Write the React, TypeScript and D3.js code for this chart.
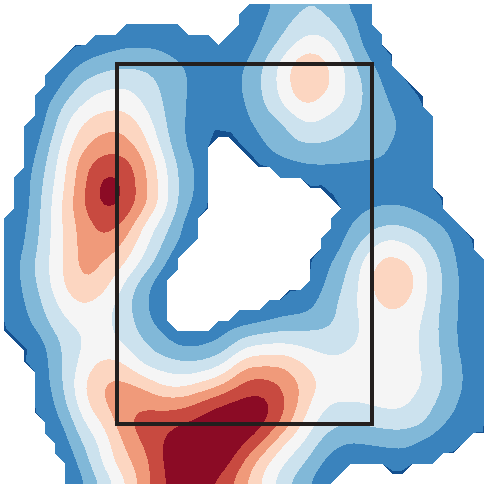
import React from "react";
import * as d3 from "d3";

// Density at 25 x 25 sample points (rows top to bottom, columns left to right).
const density: number[][] = [
  [-2,-2,-2,-2,-2,-1.5,-1,-1,-1,-1,-1,-.5,.2,.75,1.4,1.9,1.8,1.1,.5,0,-1,-1,-2,-2,-2],
  [-2,-2,-2,-2,-1,-.5,-.1,0,0,-.2,-.6,-.3,.3,1,1.75,2.5,2.4,1.55,.7,.05,-1,-1,-2,-2,-2],
  [-2,-2,-1,-.2,.25,.5,.8,.85,.7,.3,.1,.1,.45,1.37,2.4,3.4,3.4,2.25,.8,.2,-.5,-1,-2,-2,-2],
  [-2,-1,-.1,.45,1.05,1.55,1.75,1.7,1.45,.95,.65,.55,.9,2.05,3.4,4.7,4.2,2.95,1.4,.6,0,-1,-2,-2,-2],
  [-2,-1,0,1.05,2.2,2.7,2.85,2.5,1.75,1.05,.7,.6,1.05,2.2,3.5,4.95,4.35,3.1,1.9,.9,.2,-1,-2,-2,-2],
  [-2,-.5,.65,2,3.05,3.6,3.65,2.95,1.95,1,.7,.55,.9,2,3.1,4.05,3.6,2.95,1.85,1.2,.55,-.1,-1,-2,-2],
  [-1,0,.9,2.75,4.1,4.65,4.65,3.7,2.15,1,.5,.3,.7,1.4,1.95,2.95,2.75,2.2,1.75,1.3,.85,.1,-1,-2,-2],
  [-.5,.1,1.4,3.3,4.75,5.45,5.35,4.35,2.55,1,.5,.1,.3,.95,1.6,1.97,1.95,1.7,1.4,1.15,.7,.3,-.5,-2,-2],
  [-.3,.4,1.8,3.75,5.6,6.5,6.4,5.1,3.2,1.4,.6,0,.1,.35,.7,.95,1,.95,.9,.9,.55,.1,-.5,-2,-2],
  [-.3,.55,2.1,3.95,5.85,7.3,6.9,5.25,3.45,1.5,.6,-.5,-1,-1,-.5,.2,.3,.45,.55,.55,.45,.2,-.1,-1,-2],
  [-.3,.55,2.3,4.2,6,7.2,6.8,5.25,3.4,1.4,.3,-1,-1,-1,-1,-1,-.5,.4,.75,.95,.9,.55,0,-1,-2],
  [-.1,.8,2.35,4.15,5.55,6.35,5.85,4,2.5,.95,-.5,-1,-1,-1,-1,-1,-.3,.7,1.4,1.9,1.85,1.45,.9,.25,-.5],
  [.05,.95,2.5,4.1,5.4,5.75,4.85,3.35,1.85,.6,-1,-1,-1,-1,-1,-1,0,1.1,2.25,3.3,3.1,2.3,1.35,.55,.05],
  [.1,1.3,2.65,4.05,5.35,4.85,4.05,2.6,1.2,-.5,-1,-1,-1,-1,-1,-1,.75,1.6,3.26,4.35,4.2,3.1,1.75,.6,0],
  [.05,1.2,2.5,4.05,4.85,4.4,2.95,1.5,.2,-1,-1,-1,-1,-1,-1,.2,.95,2.05,3.4,4.7,4.75,3.2,1.9,.75,.05],
  [-.1,.95,2.1,3.4,4.05,3.45,2.45,1.2,.2,-1,-1,-1,-.5,0,.3,.55,1.35,2.35,3.35,4.1,4.05,3.1,1.75,.7,0],
  [-.5,.6,1.7,2.75,3.25,3.15,2.7,1.4,.65,.2,-.1,.55,.9,1.15,1.5,1.6,1.8,2.35,3.2,3.65,3.6,2.85,1.65,.7,0],
  [-1,-.3,.95,2.2,3.1,3.3,2.95,2.15,1.3,.75,.95,1.4,2.6,3,3.05,2.8,2.6,2.75,3.2,3.35,3.3,2.85,1.7,.7,0],
  [-2,-1,.7,2.15,3.4,4.3,4.05,2.85,2.5,2.2,2.3,3.05,4.6,4.8,4.8,4,3.3,3.25,3.5,3.5,3.4,2.95,1.85,.9,0],
  [-2,-2,.6,2.05,3.95,5,5.2,4.7,3.8,3.7,4.3,5,6.2,6.4,5.75,4.7,3.7,3.4,3.45,3.5,3.45,2.95,1.9,.95,.1],
  [-2,-2,.2,1.75,3.65,4.95,5.6,5.8,5.6,5.7,6.35,7,7.35,7.3,6.1,4.5,3.1,2.95,3,3.2,3.15,2.45,1.6,.7,.05],
  [-2,-2,0,1.05,2.9,4.1,5.65,6.4,6.65,7,7.55,7.9,7.95,7.05,5.6,3.75,2.55,2,2.1,2.3,2.35,2,1,.3,-1],
  [-2,-2,-1,.6,2.05,3.45,5.05,6.1,7.05,7.9,8.1,8,7,5.7,4,2.9,1.6,.95,.95,1.1,1.15,.7,.1,-1,-2],
  [-2,-2,-2,0,1.5,3.15,4.6,5.6,7.1,7.7,7.9,7.35,5.85,4.25,3,2,.85,.3,.3,.3,.45,.1,-1,-2,-2],
  [-2,-2,-2,-.5,1,2.3,3.8,5.55,6.9,7.7,7.3,6.5,5.2,3.75,2.35,1.25,.35,-.5,-1,-1,-1,-1,-2,-2,-2],
];

// Contour levels and their fills; the first fill is the band below level 1.
const levels = [1, 2, 3, 4, 5, 6, 7];
const bandColors = ["#81b8d8", "#cce2ee", "#f5f5f5", "#fcd6c1", "#f09a7a", "#c84a40", "#8b0b25"];
const baseColor = "#3a83bd";
const lowColor = "#14508f";
const frameColor = "#231f1e";

// Valid points of the 48 x 48 masked lattice: inclusive [from, to] runs per row.
const maskRuns: number[][][] = [
  [[24,36]],[[23,36]],[[12,17],[23,36]],[[9,20],[22,37]],[[7,37]],[[6,38]],[[5,38]],[[4,39]],
  [[4,40]],[[3,41]],[[3,41]],[[3,42]],[[2,42]],[[2,42]],[[2,20],[23,42]],[[2,20],[24,42]],
  [[2,20],[25,42]],[[1,20],[27,42]],[[1,20],[30,42]],[[1,20],[32,43]],[[1,20],[33,43]],[[0,19],[32,44]],[[0,19],[32,45]],[[0,19],[31,46]],
  [[0,18],[31,46]],[[0,17],[30,47]],[[0,17],[30,47]],[[0,16],[30,47]],[[0,16],[28,47]],[[0,16],[26,47]],[[0,16],[23,47]],[[0,16],[21,47]],
  [[0,47]],[[1,47]],[[2,47]],[[2,47]],[[3,47]],[[3,47]],[[3,47]],[[3,47]],
  [[3,47]],[[4,47]],[[4,47]],[[5,45]],[[5,44]],[[6,42]],[[6,33],[38,39]],[[6,32]],
];

// Lattice points where the field drops below the lowest level: [column, row, depth].
const lowPoints: number[][] = [
  [21,13,8],[22,13,5],[23,14,3],[24,15,3],[25,16,3],[7,4,1.5],[20,20,1.5],[38,5,1.5],[40,8,2],[41,9,4],
  [31,18,3],[32,19,4],[30,18,1.5],[43,19,2],[46,23,2],[0,32,3],[1,33,3],[2,34,3],[2,35,1.5],[3,40,1.5],
  [47,42,2],[30,25,1.5],[28,28,1.5],[38,46,3],[39,46,3],[44,44,1.5],
];

// The frame, in the picture's own units.
const frame = { left: 117, top: 64, right: 372, bottom: 424 };

const SIZE = 488;
const LATTICE = 48;
const FACTOR = 4;
const SOFTEN = 1;

const latticeX = d3.scaleLinear().domain([0, LATTICE - 1]).range([4, 484]);
const latticeY = d3.scaleLinear().domain([0, LATTICE - 1]).range([4, 484]);

const isValid = (i: number, j: number) =>
  j >= 0 && j < LATTICE && (maskRuns[j] || []).some(([a, b]) => i >= a && i <= b);

function cellPath(point: (i: number, j: number) => [number, number]) {
  const p = d3.path();
  for (let j = 0; j < LATTICE - 1; j++) {
    for (let i = 0; i < LATTICE - 1; i++) {
      const corners = [[i, j], [i + 1, j], [i + 1, j + 1], [i, j + 1]].filter(([a, b]) => isValid(a, b));
      if (corners.length < 3) continue;
      corners.forEach(([a, b], k) => {
        const [x, y] = point(a, b);
        if (k === 0) p.moveTo(x, y);
        else p.lineTo(x, y);
      });
      p.closePath();
    }
  }
  return p.toString();
}

const plainPoint = (i: number, j: number): [number, number] => [latticeX(i), latticeY(j)];

const lowPoint = (i: number, j: number): [number, number] => {
  const [x, y] = plainPoint(i, j);
  const low = lowPoints.find(([a, b]) => a === i && b === j);
  if (!low) return [x, y];
  let dx = 0;
  let dy = 0;
  for (let b = -1; b <= 1; b++) {
    for (let a = -1; a <= 1; a++) {
      if ((a || b) && isValid(i + a, j + b)) {
        dx += a;
        dy += b;
      }
    }
  }
  const len = Math.hypot(dx, dy) || 1;
  return [x + (dx / len) * low[2], y + (dy / len) * low[2]];
};

function catmull(p0: number, p1: number, p2: number, p3: number, t: number) {
  return 0.5 * (2 * p1 + (p2 - p0) * t + (2 * p0 - 5 * p1 + 4 * p2 - p3) * t * t + (3 * p1 - p0 - 3 * p2 + p3) * t * t * t);
}

function refine(grid: number[][], factor: number) {
  const n = grid.length;
  const m = (n - 1) * factor + 1;
  const at = (r: number, c: number) => grid[Math.max(0, Math.min(n - 1, r))][Math.max(0, Math.min(n - 1, c))];
  const out = new Array<number>(m * m);
  for (let y = 0; y < m; y++) {
    const r = Math.min(n - 2, Math.floor(y / factor));
    const ty = y / factor - r;
    for (let x = 0; x < m; x++) {
      const c = Math.min(n - 2, Math.floor(x / factor));
      const tx = x / factor - c;
      const rows = [-1, 0, 1, 2].map((d) =>
        catmull(at(r + d, c - 1), at(r + d, c), at(r + d, c + 1), at(r + d, c + 2), tx)
      );
      out[y * m + x] = catmull(rows[0], rows[1], rows[2], rows[3], ty);
    }
  }
  return { values: out, size: m };
}

export default function App() {
  const { values, size } = refine(density, FACTOR);
  d3.blur2({ data: values, width: size }, SOFTEN);
  const toPixel = d3.scaleLinear().domain([0.5, size - 0.5]).range([4, 484]);
  const path = d3.geoPath(
    d3.geoTransform({
      point(x: number, y: number) {
        (this as any).stream.point(toPixel(x), toPixel(y));
      },
    })
  );
  const bands = d3.contours().size([size, size]).thresholds(levels)(values);

  const maskD = cellPath(plainPoint);
  const fieldD = cellPath(lowPoint);

  return (
    <svg
      width={SIZE}
      height={SIZE}
      viewBox={`0 0 ${SIZE} ${SIZE}`}
      style={{ position: "fixed", left: 0, top: 0, display: "block", background: "#fff" }}
    >
      <defs>
        <clipPath id="field">
          <path d={fieldD} />
        </clipPath>
      </defs>
      <g shapeRendering="crispEdges">
        <path d={maskD} fill={lowColor} />
        <path d={fieldD} fill={baseColor} />
        <g clipPath="url(#field)">
          {bands.map((band, k) => (
            <path key={k} d={path(band) || ""} fill={bandColors[k]} />
          ))}
        </g>
        <rect
          x={frame.left}
          y={frame.top}
          width={frame.right - frame.left}
          height={frame.bottom - frame.top}
          fill="none"
          stroke={frameColor}
          strokeWidth={4}
        />
      </g>
    </svg>
  );
}
